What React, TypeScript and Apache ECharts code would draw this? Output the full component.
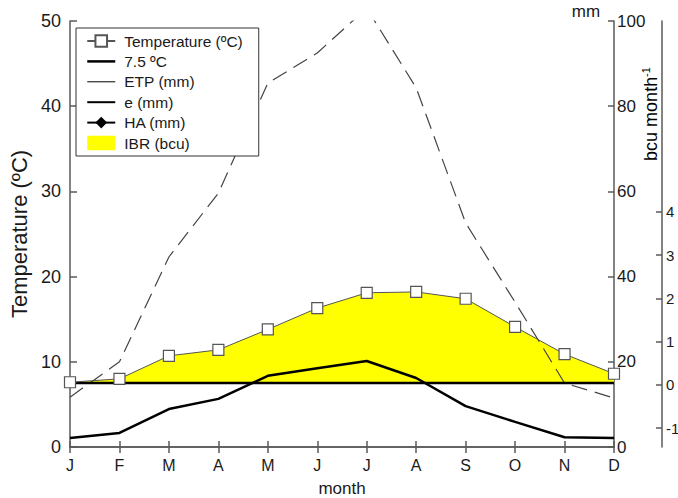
import React, { useEffect, useRef } from "react";
import * as echarts from "echarts";

const months = ["J", "F", "M", "A", "M", "J", "J", "A", "S", "O", "N", "D"];
const temperature = [7.6, 8.0, 10.7, 11.4, 13.8, 16.3, 18.1, 18.2, 17.4, 14.1, 10.9, 8.6];
const threshold = [7.5, 7.5, 7.5, 7.5, 7.5, 7.5, 7.5, 7.5, 7.5, 7.5, 7.5, 7.5];
const etp = [11.7, 20.0, 44.6, 59.6, 85.4, 92.5, 103.0, 84.3, 52.6, 34.0, 15.0, 11.5];
const eMm = [2.1, 3.3, 8.9, 11.3, 16.7, 18.5, 20.2, 16.2, 9.6, 5.9, 2.3, 2.1];
const ha: (number | null)[] = [];
const tempTicks = [0, 10, 20, 30, 40, 50];
const bcuTicks = [-1, 0, 1, 2, 3, 4];

const FONT = "'Liberation Sans', Arial, sans-serif";
const AXIS = "#5a5a5a";

export default function App() {
  const ref = useRef<HTMLDivElement>(null);
  useEffect(() => {
    if (!ref.current) return;
    const chart = echarts.init(ref.current, undefined, { renderer: "svg" });
    const ibr = temperature.map((t, i) => Math.max(t - threshold[i], 0));
    chart.setOption({
      animation: false,
      backgroundColor: "#ffffff",
      textStyle: { fontFamily: FONT, color: "#1a1a1a" },
      grid: { left: 70, right: 64, top: 21, bottom: 51, containLabel: false, outerBoundsMode: "none" },
      legend: {
        orient: "vertical",
        left: 76,
        top: 28,
        padding: [5, 16, 5, 10],
        itemGap: 4.4,
        itemWidth: 28,
        itemHeight: 14.5,
        borderColor: "#333",
        borderWidth: 1,
        backgroundColor: "#fff",
        textStyle: { fontSize: 15.5, color: "#1a1a1a", fontFamily: FONT, padding: [0, 0, 0, 4] },
        data: [
          { name: "Temperature (ºC)" },
          { name: "7.5 ºC", itemStyle: { opacity: 0 }, lineStyle: { width: 2.5, color: "#000" } },
          { name: "ETP (mm)", itemStyle: { opacity: 0 }, lineStyle: { type: "solid", width: 1, color: "#000" } },
          { name: "e (mm)", itemStyle: { opacity: 0 }, lineStyle: { width: 2, color: "#000" } },
          { name: "HA (mm)" },
          { name: "IBR (bcu)", icon: "rect", itemStyle: { color: "#ffff00" } },
        ],
        selectedMode: false,
      },
      xAxis: [
        {
          type: "category",
          data: months,
          boundaryGap: false,
          position: "bottom",
          axisLine: { lineStyle: { color: AXIS, width: 1.5 } },
          axisTick: { inside: true, length: 6, lineStyle: { color: AXIS, width: 1.5 } },
          axisLabel: { fontSize: 16, color: "#1a1a1a", margin: 10 },
          name: "month",
          nameLocation: "middle",
          nameGap: 33,
          nameTextStyle: { fontSize: 17, color: "#1a1a1a" },
        },
        {
          type: "category",
          data: months,
          boundaryGap: false,
          position: "top",
          axisLine: { lineStyle: { color: AXIS, width: 1.5 } },
          axisTick: { inside: true, length: 6, lineStyle: { color: AXIS, width: 1.5 } },
          axisLabel: { show: false },
        },
      ],
      yAxis: [
        {
          type: "value",
          min: tempTicks[0],
          max: tempTicks[tempTicks.length - 1],
          interval: 10,
          position: "left",
          axisLine: { show: true, lineStyle: { color: AXIS, width: 1.5 } },
          axisTick: { show: true, inside: true, length: 7, lineStyle: { color: AXIS, width: 1.5 } },
          axisLabel: { fontSize: 18, color: "#1a1a1a", margin: 9 },
          splitLine: { show: false },
          name: "Temperature (ºC)",
          nameLocation: "middle",
          nameGap: 38,
          nameTextStyle: { fontSize: 22, color: "#1a1a1a" },
        },
        {
          type: "value",
          min: 0,
          max: 100,
          interval: 20,
          position: "right",
          axisLine: { show: true, lineStyle: { color: AXIS, width: 1.5 } },
          axisTick: { show: true, inside: true, length: 6, lineStyle: { color: AXIS, width: 1.5 } },
          axisLabel: { fontSize: 17, color: "#1a1a1a", margin: 3 },
          splitLine: { show: false },
        },
        {
          type: "value",
          min: -1.434,
          max: 8.416,
          position: "right",
          offset: 48,
          axisLine: { show: true, lineStyle: { color: AXIS, width: 1.5 } },
          axisTick: { show: true, inside: true, length: 6, customValues: bcuTicks, lineStyle: { color: AXIS, width: 1.5 } },
          axisLabel: { fontSize: 15, color: "#1a1a1a", margin: 4, customValues: bcuTicks },
          splitLine: { show: false },
        },
      ],
      graphic: [
        {
          type: "text",
          x: 586,
          y: 11,
          style: { text: "mm", fontSize: 17, fontFamily: FONT, fill: "#1a1a1a", align: "center", verticalAlign: "middle" },
        },
        {
          type: "text",
          x: 651,
          y: 114,
          rotation: Math.PI / 2,
          style: {
            text: "{a|bcu month}{s|-1}",
            align: "center",
            verticalAlign: "middle",
            rich: {
              a: { fontSize: 18, fontFamily: FONT, color: "#1a1a1a" },
              s: { fontSize: 11, fontFamily: FONT, color: "#1a1a1a", verticalAlign: "top", padding: [0, 0, 10, 0] },
            },
          },
        },
      ],
      series: [
        {
          name: "7.5 ºC",
          type: "line",
          data: threshold,
          stack: "ibr",
          yAxisIndex: 0,
          symbol: "none",
          z: 4,
          color: "#000",
          lineStyle: { color: "#000", width: 2.5 },
        },
        {
          name: "IBR (bcu)",
          type: "line",
          data: ibr,
          stack: "ibr",
          yAxisIndex: 0,
          symbol: "none",
          z: 1,
          color: "#ffff00",
          lineStyle: { width: 0, color: "#ffff00" },
          areaStyle: { color: "#ffff00", opacity: 1 },
        },
        {
          name: "ETP (mm)",
          type: "line",
          data: etp,
          yAxisIndex: 1,
          symbol: "none",
          z: 3,
          color: "#333",
          lineStyle: { color: "#444", width: 1.2, type: [16, 8] },
        },
        {
          name: "e (mm)",
          type: "line",
          data: eMm,
          yAxisIndex: 1,
          symbol: "none",
          z: 4,
          color: "#000",
          lineStyle: { color: "#000", width: 2.5 },
        },
        {
          name: "HA (mm)",
          type: "line",
          data: ha,
          yAxisIndex: 1,
          symbol: "diamond",
          symbolSize: 10,
          color: "#000",
          itemStyle: { color: "#000" },
          lineStyle: { color: "#000", width: 1.5 },
        },
        {
          name: "Temperature (ºC)",
          type: "line",
          data: temperature,
          yAxisIndex: 0,
          symbol: "rect",
          symbolSize: 11,
          z: 5,
          color: "#555",
          itemStyle: { color: "#fff", borderColor: "#555", borderWidth: 1.2 },
          lineStyle: { color: "#555", width: 1 },
        },
      ],
    });
    return () => chart.dispose();
  }, []);
  return <div ref={ref} style={{ position: "fixed", left: 0, top: 0, width: 678, height: 498 }} />;
}
